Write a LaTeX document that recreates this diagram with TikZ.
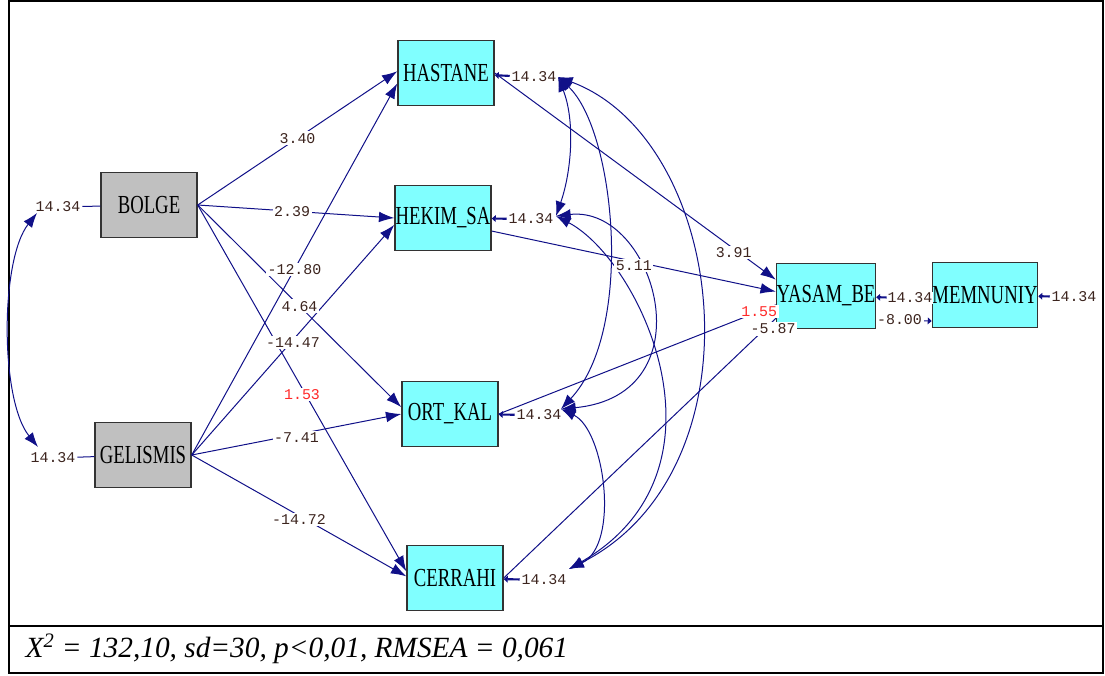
\documentclass[tikz,border=0pt]{standalone}
\usepackage{fontspec}
\usepackage{tikz}
\usetikzlibrary{arrows.meta}
\setmainfont{Liberation Serif}
\newfontfamily\boxfont[FakeStretch=0.72]{Liberation Serif}
\newfontfamily\numfont{Liberation Mono}
\definecolor{pathblue}{RGB}{16,16,136}
\definecolor{boxcyan}{RGB}{128,255,255}
\definecolor{boxgray}{RGB}{192,192,192}
\definecolor{numred}{RGB}{255,40,40}
\definecolor{numdark}{RGB}{60,36,30}

\begin{document}
\begin{tikzpicture}[x=0.75pt,y=-0.75pt,
    var/.style={draw=black!80,line width=1.1pt,minimum width=72pt,minimum height=48.75pt,inner sep=0pt,font=\boxfont\fontsize{19.5}{19.5}\selectfont},
    obs/.style={var,fill=boxcyan},
    exo/.style={var,fill=boxgray},
    effect/.style={draw=pathblue,line width=0.75pt,-{Latex[length=11.5pt,width=8pt]}},
    link/.style={draw=pathblue,line width=0.75pt},
    cov/.style={draw=pathblue,line width=0.75pt,{Latex[length=11pt,width=8pt]}-{Latex[length=11pt,width=8pt]}},
    err/.style={draw=pathblue,line width=1.6pt,-{Triangle[length=3pt,width=5pt]}},
    lbl/.style={fill=white,inner sep=1.2pt,text=numdark,font=\numfont\fontsize{11.2}{11.2}\selectfont},
    redlbl/.style={lbl,text=numred}]
    \useasboundingbox (0,0) rectangle (1105,675);
    \draw[line width=1.5pt] (9,1) rectangle (1103,673);
    \draw[line width=1.5pt] (9,626) -- (1103,626);

    \node[exo] (bolge) at (149,205) {BOLGE};
    \node[exo] (gelismis) at (143,455) {GELISMIS};
    \node[obs] (hastane) at (446,73) {HASTANE};
    \node[obs] (hekim) at (443,218) {HEKIM\_SA};
    \node[obs] (ortkal) at (450,414) {ORT\_KAL};
    \node[obs] (cerrahi) at (455,578) {CERRAHI};
    \node[obs] (yasam) at (826,296) {YASAM\_BE};
    \node[obs] (memnun) at (985,295) {MEMNUNIY};

    \node[lbl] (bolgeE) at (58,207) {14.34};
    \node[lbl] (gelismisE) at (53,458) {14.34};
    \node[lbl] (hastaneE) at (534,77) {14.34};
    \node[lbl] (hekimE) at (531,219) {14.34};
    \node[lbl] (ortkalE) at (539,415) {14.34};
    \node[lbl] (cerrahiE) at (544,580) {14.34};
    \node[lbl,inner sep=0.6pt] (yasamE) at (910,298) {14.34};
    \node[lbl] (memnunE) at (1074,297) {14.34};

    \coordinate (bolgeC) at (37,213);
    \coordinate (gelismisC) at (38,447);
    \coordinate (hastaneC) at (558,77);
    \coordinate (hekimC) at (556,216);
    \coordinate (ortkalC) at (561,409);
    \coordinate (cerrahiC) at (569,569);

    \draw[effect] (bolge.east) -- (hastane.178) coordinate[pos=0.5] (p1);
    \draw[effect] (bolge.east) -- (hekim.west) coordinate[pos=0.48] (p2);
    \draw[effect] (bolge.east) -- (ortkal.172) coordinate[pos=0.5] (p3);
    \draw[effect] (bolge.east) -- (cerrahi.172) coordinate[pos=0.5] (p4);
    \draw[effect] (gelismis.east) -- (hastane.192) coordinate[pos=0.5] (p5);
    \draw[effect] (gelismis.east) -- (hekim.188) coordinate[pos=0.5] (p6);
    \draw[effect] (gelismis.east) -- (ortkal.west) coordinate[pos=0.5] (p7);
    \draw[effect] (gelismis.east) -- (cerrahi.178) coordinate[pos=0.5] (p8);
    \draw[effect] (hastane.east) -- (yasam.162) coordinate[pos=0.85] (p9);
    \draw[effect] (hekim.345) -- (yasam.175) coordinate[pos=0.5] (p10);
    \draw[link] (yasam.190) -- (ortkal.east) coordinate[pos=0.06] (p11);
    \draw[link] (yasam.204) -- (cerrahi.east) coordinate[pos=0.02] (p12);
    \draw[err,line width=0.75pt] (yasam.335) -- (memnun.206) coordinate[pos=0.42] (p13);

    \draw[link] (bolgeE) -- (bolge);
    \draw[link] (gelismisE) -- (gelismis);
    \draw[err] (hastaneE) -- (hastane);
    \draw[err] (hekimE) -- (hekim);
    \draw[err] (ortkalE) -- (ortkal);
    \draw[err] (cerrahiE) -- (cerrahi);
    \draw[err] (yasamE) -- (yasam);
    \draw[err] (memnunE) -- (memnun);

    \draw[cov] (bolgeC) .. controls (0,260) and (0,400) .. (gelismisC);
    \draw[cov] (hastaneC) .. controls (575,120) and (572,170) .. (hekimC);
    \draw[cov] (hastaneC) .. controls (615,130) and (635,330) .. (ortkalC);
    \draw[cov] (hastaneC) .. controls (728,140) and (765,470) .. (cerrahiC);
    \draw[cov] (hekimC) .. controls (655,205) and (710,395) .. (ortkalC);
    \draw[cov] (hekimC) .. controls (640,260) and (740,470) .. (cerrahiC);
    \draw[cov] (ortkalC) .. controls (605,430) and (620,545) .. (cerrahiC);

    \draw (p1) node[lbl] {3.40};
    \draw (p2) node[lbl] {2.39};
    \draw (p3) node[lbl] {4.64};
    \draw (p4) node[redlbl,yshift=-5pt] {1.53};
    \draw (p5) node[lbl] {-12.80};
    \draw (p6) node[lbl,yshift=-2pt] {-14.47};
    \draw (p7) node[lbl,yshift=-2pt] {-7.41};
    \draw (p8) node[lbl,yshift=-3pt] {-14.72};
    \draw (p9) node[lbl,yshift=-3pt] {3.91};
    \draw (p10) node[lbl,yshift=-3pt] {5.11};
    \draw (p11) node[redlbl] {1.55};
    \draw (p12) node[lbl,xshift=2pt,yshift=-4pt] {-5.87};
    \draw (p13) node[lbl] {-8.00};

    \node[anchor=west,font=\itshape\fontsize{22}{22}\selectfont] (fit) at (21,649) {X\textsuperscript{2} = 132,10, sd=30, p<0,01, RMSEA = 0,061};
\end{tikzpicture}
\end{document}
